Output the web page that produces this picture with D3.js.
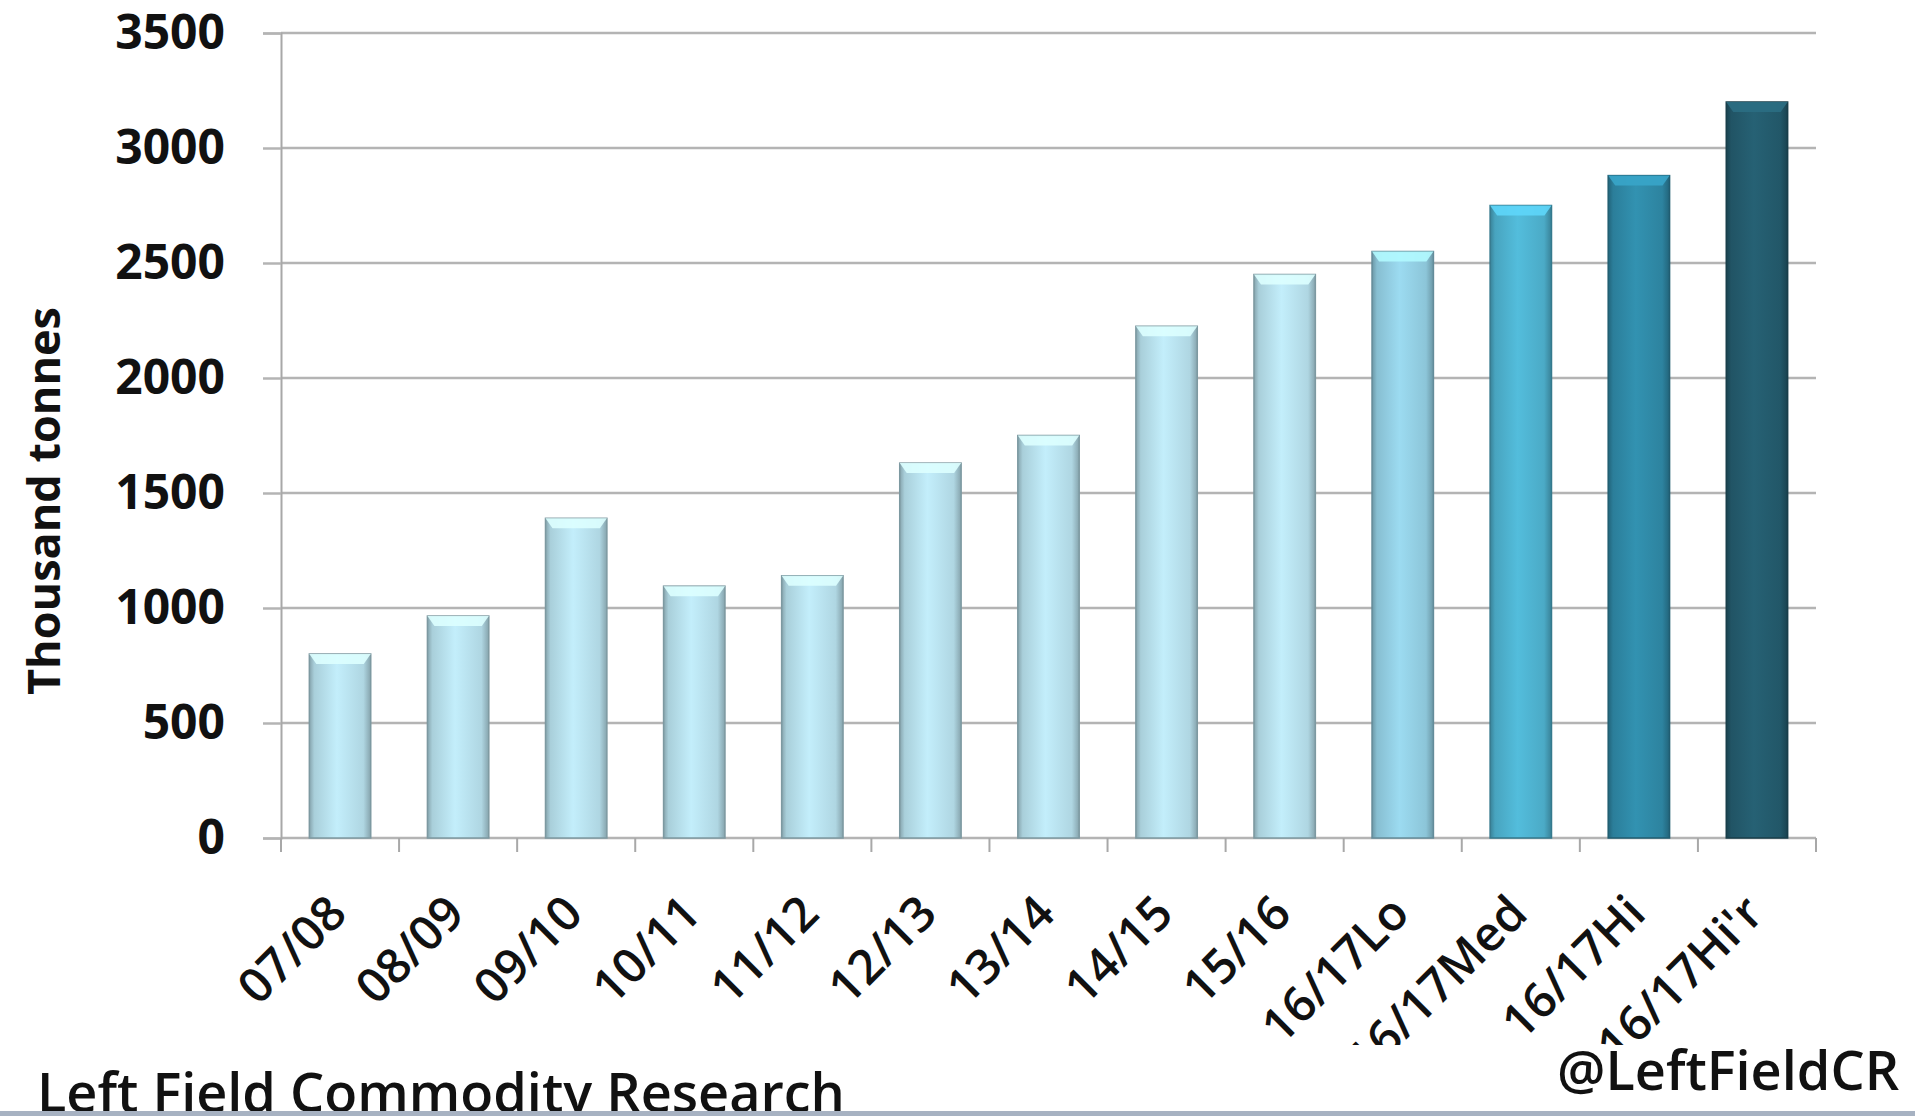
<!DOCTYPE html>
<html>
<head>
<meta charset="utf-8">
<script src="https://cdn.jsdelivr.net/npm/d3@7"></script>
<style>
  html, body { margin: 0; padding: 0; background: #fff; }
  svg { display: block; }
  text { font-family: "Open Sans", "Noto Sans", sans-serif; fill: #111; }
</style>
</head>
<body>
<script>
// chart values
const categories = ["07/08", "08/09", "09/10", "10/11", "11/12", "12/13", "13/14",
                    "14/15", "15/16", "16/17Lo", "16/17Med", "16/17Hi", "16/17Hi'r"];
const values = [800, 965, 1390, 1095, 1140, 1630, 1750, 2225, 2450, 2550, 2750, 2880, 3200];
const yTicks = [0, 500, 1000, 1500, 2000, 2500, 3000, 3500];
const barColors = ["#b9e2ee", "#b9e2ee", "#b9e2ee", "#b9e2ee", "#b9e2ee", "#b9e2ee", "#b9e2ee",
                   "#b9e2ee", "#b9e2ee", "#94d0e4", "#4fb3d1", "#2f8aa8", "#245c6e"];

const width = 1915, height = 1116;
const margin = {top: 33, right: 99, bottom: 278, left: 281};

const data = categories.map((c, i) => ({name: c, value: values[i], color: barColors[i]}));

const x = d3.scaleBand()
  .domain(categories)
  .range([margin.left, width - margin.right])
  .paddingInner(0.48)
  .paddingOuter(0.24);

// band edges for ticks (plain band without padding)
const xb = d3.scaleBand().domain(categories).range([margin.left, width - margin.right]);

const y = d3.scaleLinear()
  .domain([0, 3500])
  .range([height - margin.bottom, margin.top]);

const svg = d3.select("body").append("svg")
  .attr("width", width)
  .attr("height", height);

const defs = svg.append("defs");
data.forEach((d, i) => {
  const c = d3.color(d.color);
  const g = defs.append("linearGradient").attr("id", "grad" + i)
    .attr("x1", 0).attr("x2", 1).attr("y1", 0).attr("y2", 0);
  g.append("stop").attr("offset", "0%").attr("stop-color", c.darker(0.9));
  g.append("stop").attr("offset", "8%").attr("stop-color", c.darker(0.25));
  g.append("stop").attr("offset", "45%").attr("stop-color", c.brighter(0.15));
  g.append("stop").attr("offset", "88%").attr("stop-color", c.darker(0.15));
  g.append("stop").attr("offset", "100%").attr("stop-color", c.darker(0.9));
});

// gridlines + y axis
const yAxis = g => g
  .attr("transform", `translate(${margin.left},0)`)
  .call(d3.axisLeft(y).tickValues(yTicks).tickFormat(d3.format("d")).tickSize(18).tickPadding(38))
  .call(g => g.select(".domain").attr("stroke", "#a8a8a8").attr("stroke-width", 2))
  .call(g => g.selectAll(".tick line").attr("stroke", "#b4b4b4").attr("stroke-width", 2.5))
  .call(g => g.selectAll(".tick text")
    .attr("font-size", 48).attr("font-weight", 700).attr("fill", "#111"));

svg.append("g")
  .attr("class", "grid")
  .selectAll("line")
  .data(yTicks)
  .join("line")
  .attr("x1", margin.left)
  .attr("x2", width - margin.right)
  .attr("y1", d => y(d))
  .attr("y2", d => y(d))
  .attr("stroke", "#b4b4b4")
  .attr("stroke-width", 2.5);

svg.append("g").attr("class", "y-axis").call(yAxis);

// x axis ticks at band edges
const edges = categories.map(c => xb(c)).concat([width - margin.right]);
svg.append("g")
  .attr("class", "x-ticks")
  .selectAll("line")
  .data(edges)
  .join("line")
  .attr("x1", d => d).attr("x2", d => d)
  .attr("y1", y(0)).attr("y2", y(0) + 14)
  .attr("stroke", "#a8a8a8")
  .attr("stroke-width", 2);

// bars
const bars = svg.append("g").attr("class", "bars")
  .selectAll("g")
  .data(data)
  .join("g");

bars.append("rect")
  .attr("x", d => x(d.name))
  .attr("y", d => y(d.value))
  .attr("width", x.bandwidth())
  .attr("height", d => y(0) - y(d.value))
  .attr("fill", (d, i) => `url(#grad${i})`)
  .attr("stroke", d => d3.color(d.color).darker(1.1))
  .attr("stroke-width", 1.5);

// bevelled light cap on top of each bar
bars.append("path")
  .attr("d", d => {
    const x0 = x(d.name), x1 = x0 + x.bandwidth(), t = y(d.value), h = 10;
    return `M${x0},${t} L${x1},${t} L${x1 - 7},${t + h} L${x0 + 7},${t + h} Z`;
  })
  .attr("fill", d => d3.color(d.color).brighter(0.5))
  .attr("opacity", 0.9);

// x labels rotated
svg.append("g")
  .attr("class", "x-labels")
  .selectAll("text")
  .data(categories)
  .join("text")
  .attr("transform", d => `translate(${x(d) + x.bandwidth() / 2 + 9},${y(0) + 78}) rotate(-45)`)
  .attr("text-anchor", "end")
  .attr("font-size", 48)
  .attr("font-weight", 600)
  .text(d => d);

// y axis title
svg.append("text")
  .attr("transform", `translate(60,501) rotate(-90)`)
  .attr("text-anchor", "middle")
  .attr("font-size", 45)
  .attr("font-weight", 700)
  .text("Thousand tonnes");

// footer box that overlaps the long labels
svg.append("rect")
  .attr("x", 1250).attr("y", 1045)
  .attr("width", width - 1250).attr("height", height - 1045)
  .attr("fill", "#fff");

svg.append("text")
  .attr("x", 1557).attr("y", 1090)
  .attr("font-size", 54)
  .attr("font-weight", 600)
  .text("@LeftFieldCR");

svg.append("text")
  .attr("x", 37).attr("y", 1112)
  .attr("font-size", 54)
  .attr("font-weight", 600)
  .text("Left Field Commodity Research");

svg.append("rect")
  .attr("x", 0).attr("y", 1111)
  .attr("width", width).attr("height", 5)
  .attr("fill", "#a7b2c2");
</script>
</body>
</html>
